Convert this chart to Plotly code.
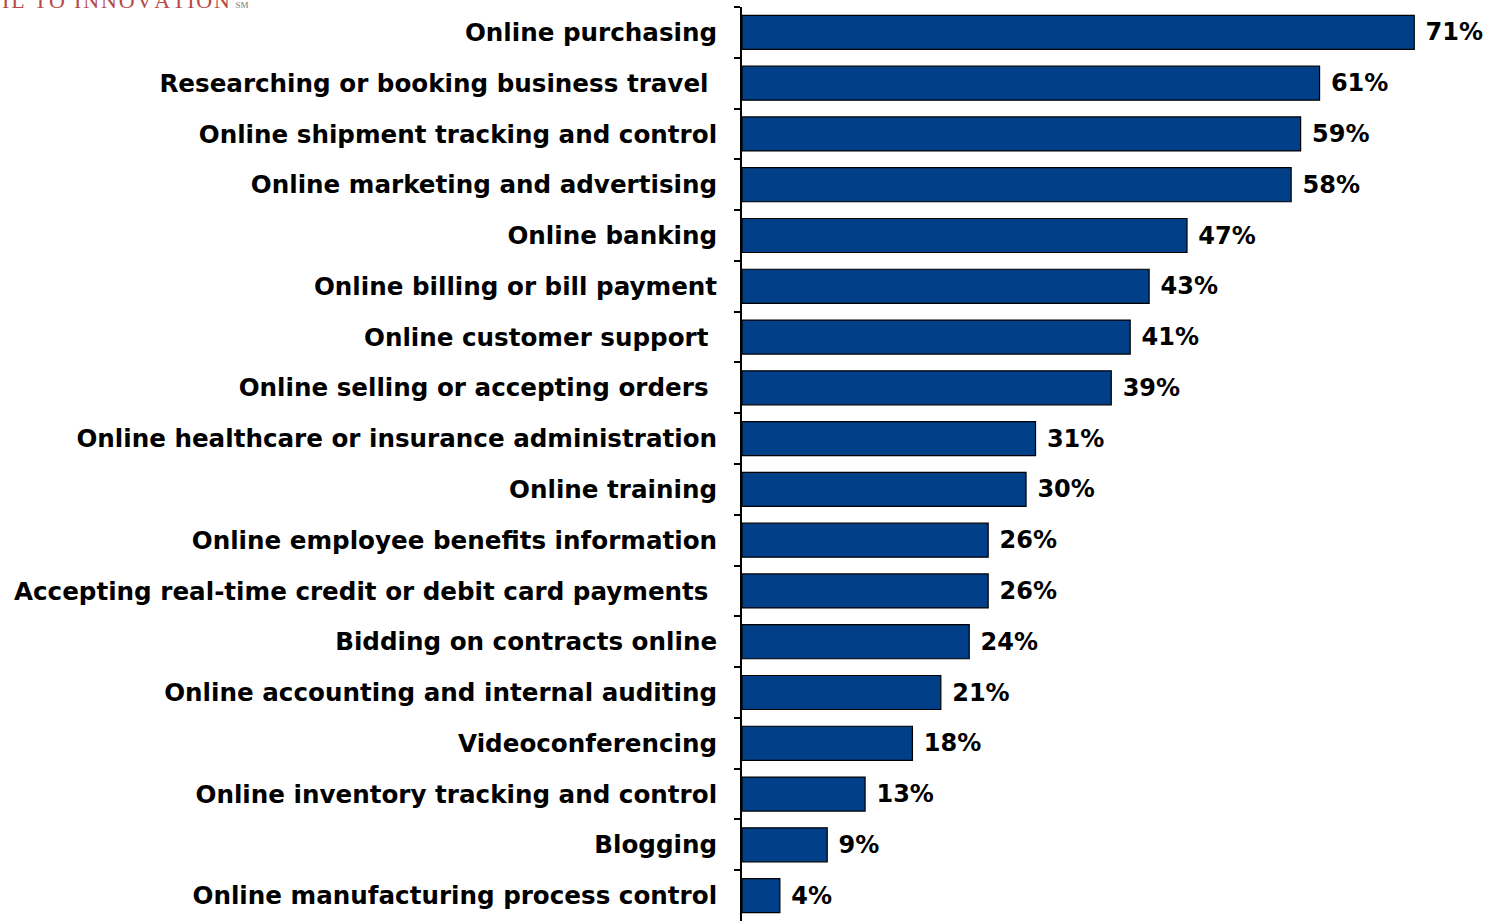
import plotly.graph_objects as go

categories = [
    "Online purchasing",
    "Researching or booking business travel\u00a0",
    "Online shipment tracking and control",
    "Online marketing and advertising",
    "Online banking",
    "Online billing or bill payment",
    "Online customer support\u00a0",
    "Online selling or accepting orders\u00a0",
    "Online healthcare or insurance administration",
    "Online training",
    "Online employee benefits information",
    "Accepting real-time credit or debit card payments\u00a0",
    "Bidding on contracts online",
    "Online accounting and internal auditing",
    "Videoconferencing",
    "Online inventory tracking and control",
    "Blogging",
    "Online manufacturing process control",
]
values = [71, 61, 59, 58, 47, 43, 41, 39, 31, 30, 26, 26, 24, 21, 18, 13, 9, 4]
labels = [f"\u00a0{v}%" for v in values]

FONT = "DejaVu Sans"

fig = go.Figure(go.Bar(
    y=categories,
    x=values,
    orientation="h",
    text=labels,
    textposition="outside",
    cliponaxis=False,
    textfont=dict(family=FONT, size=24, color="black", weight="bold"),
    marker=dict(color="#013F88", line=dict(color="black", width=1.2)),
    hoverinfo="skip",
))

fig.update_layout(
    width=1490, height=921,
    margin=dict(l=742, r=0, t=7, b=0, autoexpand=False),
    plot_bgcolor="white", paper_bgcolor="white",
    bargap=0.33,
    showlegend=False,
    font=dict(family=FONT, color="black"),
)
fig.update_xaxes(range=[0, 79.0], visible=False)
fig.update_yaxes(
    autorange="reversed",
    showline=True, linecolor="black", linewidth=2,
    ticks="outside", tickson="boundaries", ticklen=6, tickwidth=2, tickcolor="black",
    tickfont=dict(family=FONT, size=24.6, color="black", weight="bold"),
    ticklabelstandoff=18,
    showgrid=False,
)

logo = "\u200a".join("IL TO INNOVATION")
fig.add_annotation(
    text=logo + " <span style='color:#777;font-size:9px'>SM</span>",
    x=0, y=1, xref="paper", yref="paper",
    xanchor="left", yanchor="bottom", showarrow=False, xshift=-742, yshift=-8,
    font=dict(family="Liberation Serif", size=22, color="#B84848"),
)

fig.write_html(
    "out.html",
    config={"displayModeBar": False},
    post_script="document.body.style.margin='0';",
)
